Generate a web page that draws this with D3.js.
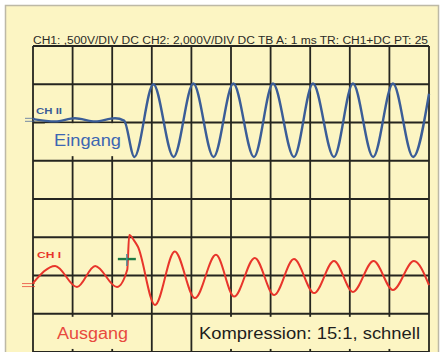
<!DOCTYPE html>
<html>
<head>
<meta charset="utf-8">
<script src="https://cdn.jsdelivr.net/npm/d3@7"></script>
<style>
  html, body { margin: 0; padding: 0; background: #ffffff; }
  svg { display: block; font-family: 'Liberation Sans', Arial, sans-serif; }
</style>
</head>
<body>
<div id="chart"></div>
<script>
// time in ms (TB 1 ms/div), level in divisions from screen centre
const timeBlue = [0, 0.56, 1.06, 1.57, 2.07, 2.3, 2.56, 3.04, 3.55, 4.05, 4.56, 5.06, 5.58, 6.06, 6.59, 7.07, 7.6, 8.08, 8.59, 9.09, 9.6, 10]
const levelBlue = [2.09, 2.03, 2.11, 2.03, 2.11, 2.05, 1.1, 3.0, 1.1, 3.02, 1.1, 3.02, 1.1, 3.02, 1.1, 3.02, 1.1, 3.02, 1.1, 3.02, 1.1, 2.75]

const timeRed = [0, 0.56, 1.11, 1.57, 2.12, 2.38, 2.43, 2.55, 2.65, 3.08, 3.58, 4.09, 4.62, 5.08, 5.6, 6.09, 6.59, 7.1, 7.6, 8.08, 8.6, 9.09, 9.62, 10]
const levelRed = [-2.2, -1.75, -2.3, -1.75, -2.3, -1.85, -0.94, -1.08, -1.25, -2.77, -1.37, -2.59, -1.46, -2.55, -1.54, -2.51, -1.57, -2.46, -1.62, -2.43, -1.62, -2.38, -1.62, -2.25]

const groundLevels = [2.07, -2.25]
const trigger = [2.37, -1.57]

const xTicks = d3.range(0, 11)
const yTicks = d3.range(-4, 5)

const header = 'CH1: ,500V/DIV DC CH2: 2,000V/DIV DC  TB A: 1 ms  TR: CH1+DC  PT: 25'

const width = 446
const height = 352
const paper = '#fcf5c3'
const blue = '#3b5d97'
const red = '#e8352b'

const svg = d3
  .select('#chart')
  .append('svg')
  .attr('width', width)
  .attr('height', height)

const x = d3.scaleLinear().domain([0, 10]).range([33, 429])
const y = d3.scaleLinear().domain([-4, 4]).range([352, 46])

// paper
svg
  .append('rect')
  .attr('x', 5.5)
  .attr('y', 5.5)
  .attr('width', 433)
  .attr('height', 360)
  .attr('fill', paper)
  .attr('stroke', '#bdb9a6')
  .attr('stroke-width', 1.5)

svg
  .append('text')
  .text(header)
  .attr('x', x(0))
  .attr('y', 43.5)
  .attr('font-size', 10)
  .attr('textLength', x(10) - x(0) - 1)
  .attr('lengthAdjust', 'spacingAndGlyphs')
  .attr('fill', '#2b2b28')

// grid
const grid = svg.append('g').attr('stroke', '#25251f').attr('stroke-width', 1.8)

grid
  .selectAll('.vline')
  .data(xTicks)
  .enter()
  .append('line')
  .attr('x1', d => x(d))
  .attr('x2', d => x(d))
  .attr('y1', y(4))
  .attr('y2', y(-4))

grid
  .selectAll('.hline')
  .data(yTicks)
  .enter()
  .append('line')
  .attr('x1', x(0))
  .attr('x2', x(10))
  .attr('y1', d => y(d))
  .attr('y2', d => y(d))

// label boxes hide the grid behind the big labels
const boxes = [
  { x0: 0.3, x1: 2.3, y0: 1.98, y1: 1.12 },
  { x0: 0.25, x1: 2.75, y0: -3.08, y1: -3.92 },
  { x0: 4.1, x1: 9.9, y0: -3.08, y1: -3.92 }
]

svg
  .selectAll('.box')
  .data(boxes)
  .enter()
  .append('rect')
  .attr('class', 'box')
  .attr('x', d => x(d.x0))
  .attr('y', d => y(d.y0))
  .attr('width', d => x(d.x1) - x(d.x0))
  .attr('height', d => y(d.y1) - y(d.y0))
  .attr('fill', paper)

// ground markers
const markerColors = [blue, red]
groundLevels.forEach((g, i) => {
  ;[-1.5, 1.5].forEach(dy => {
    svg
      .append('line')
      .attr('x1', x(0) - (i === 0 ? 8 : 11))
      .attr('x2', x(0) + 2)
      .attr('y1', y(g) + dy)
      .attr('y2', y(g) + dy)
      .attr('stroke', markerColors[i])
      .attr('stroke-width', 1)
      .attr('opacity', 0.7)
  })
})

const line = d3
  .line()
  .x(d => x(d[0]))
  .y(d => y(d[1]))
  .curve(d3.curveMonotoneX)

svg
  .append('path')
  .datum(d3.zip(timeBlue, levelBlue))
  .attr('d', line)
  .attr('fill', 'none')
  .attr('stroke', blue)
  .attr('stroke-width', 2.4)

svg
  .append('path')
  .datum(d3.zip(timeRed, levelRed))
  .attr('d', line)
  .attr('fill', 'none')
  .attr('stroke', red)
  .attr('stroke-width', 2)

// trigger cross
svg
  .append('line')
  .attr('x1', x(trigger[0]) - 9)
  .attr('x2', x(trigger[0]) + 9)
  .attr('y1', y(trigger[1]))
  .attr('y2', y(trigger[1]))
  .attr('stroke', '#1f7a45')
  .attr('stroke-width', 2.4)

svg
  .append('line')
  .attr('x1', x(trigger[0]))
  .attr('x2', x(trigger[0]))
  .attr('y1', y(trigger[1]) - 5)
  .attr('y2', y(trigger[1]) + 7)
  .attr('stroke', '#4a8f9a')
  .attr('stroke-width', 1.4)

// labels
svg
  .append('text')
  .text('CH II')
  .attr('x', 36)
  .attr('y', 114)
  .attr('font-size', 9)
  .attr('font-weight', 'bold')
  .attr('textLength', 26)
  .attr('lengthAdjust', 'spacingAndGlyphs')
  .attr('fill', blue)

svg
  .append('text')
  .text('Eingang')
  .attr('x', 54)
  .attr('y', 146)
  .attr('font-size', 17)
  .attr('textLength', 67)
  .attr('lengthAdjust', 'spacingAndGlyphs')
  .attr('fill', '#3d66b2')

svg
  .append('text')
  .text('CH I')
  .attr('x', 37)
  .attr('y', 257.5)
  .attr('font-size', 9)
  .attr('font-weight', 'bold')
  .attr('textLength', 24)
  .attr('lengthAdjust', 'spacingAndGlyphs')
  .attr('fill', red)

svg
  .append('text')
  .text('Ausgang')
  .attr('x', 57)
  .attr('y', 338.5)
  .attr('font-size', 16)
  .attr('textLength', 71)
  .attr('lengthAdjust', 'spacingAndGlyphs')
  .attr('fill', '#e84a3e')

svg
  .append('text')
  .text('Kompression: 15:1, schnell')
  .attr('x', 199)
  .attr('y', 339)
  .attr('font-size', 16.5)
  .attr('textLength', 221)
  .attr('lengthAdjust', 'spacingAndGlyphs')
  .attr('fill', '#1e1e1c')
</script>
</body>
</html>
